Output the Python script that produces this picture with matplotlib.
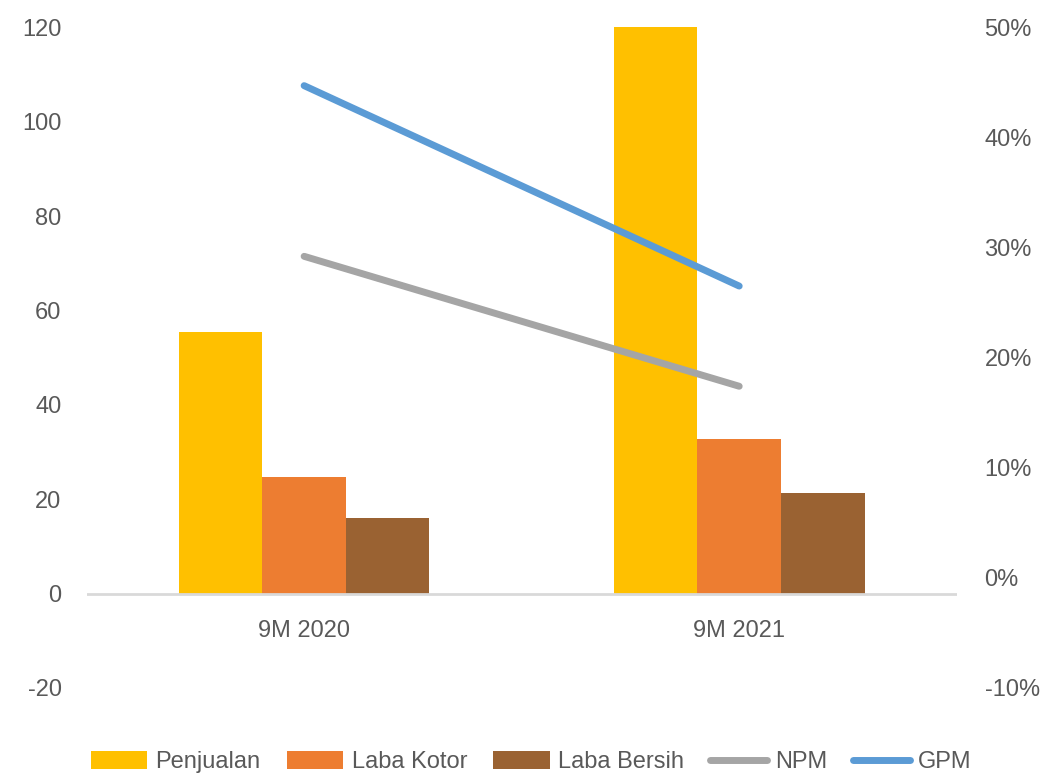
import numpy as np
import matplotlib.pyplot as plt

#%% Data
periods = ['9M 2020', '9M 2021']
penjualan = [55.5, 120.5]
laba_kotor = [24.8, 32.8]
laba_bersih = [16.1, 21.4]
npm = [29.2, 17.4]   # %
gpm = [44.7, 26.5]   # %

left_ticks = [-20, 0, 20, 40, 60, 80, 100, 120]
right_ticks = [-10, 0, 10, 20, 30, 40, 50]

#%% Style
plt.rcParams['font.family'] = ['Liberation Sans', 'DejaVu Sans']
plt.rcParams['axes.unicode_minus'] = False
txt = '#595959'
fs = 17

fig = plt.figure(figsize=(10.56, 7.8), dpi=100)
ax = fig.add_axes([0.082, 0.118, 0.824, 0.847])
ax2 = ax.twinx()

x = np.arange(len(periods))
w = 0.192
ax.bar(x - w, penjualan, w, color='#FFC000', label='Penjualan', zorder=2)
ax.bar(x, laba_kotor, w, color='#ED7D31', label='Laba Kotor', zorder=2)
ax.bar(x + w, laba_bersih, w, color='#9A6232', label='Laba Bersih', zorder=2)
ax.axhline(0, color='#D9D9D9', lw=2, zorder=3)

ax2.plot(x, npm, color='#A5A5A5', lw=5, solid_capstyle='round', label='NPM')
ax2.plot(x, gpm, color='#5B9BD5', lw=5, solid_capstyle='round', label='GPM')

ax.set_xlim(-0.5, 1.5)
ax.set_ylim(-20, 120)
ax2.set_ylim(-10, 50)
ax.set_yticks(left_ticks)
ax2.set_yticks(right_ticks)
ax2.set_yticklabels([f'{t}%' for t in right_ticks])
ax.set_xticks([])

for a in (ax, ax2):
    for s in a.spines.values():
        s.set_visible(False)
    a.tick_params(length=0, labelsize=fs, labelcolor=txt)
ax.tick_params(axis='y', pad=18)
ax2.tick_params(axis='y', pad=20)

for xi, p in zip(x, periods):
    ax.text(xi, -5.5, p, ha='center', va='top', fontsize=fs, color=txt)

h1, l1 = ax.get_legend_handles_labels()
h2, l2 = ax2.get_legend_handles_labels()
fig.legend(h1 + h2, l1 + l2, loc='center', bbox_to_anchor=(0.503, 0.023), ncol=5,
           frameon=False, fontsize=fs, labelcolor=txt, handlelength=2.4,
           handleheight=0.8, handletextpad=0.35, columnspacing=1.1)

plt.savefig('out.png', dpi=100)
